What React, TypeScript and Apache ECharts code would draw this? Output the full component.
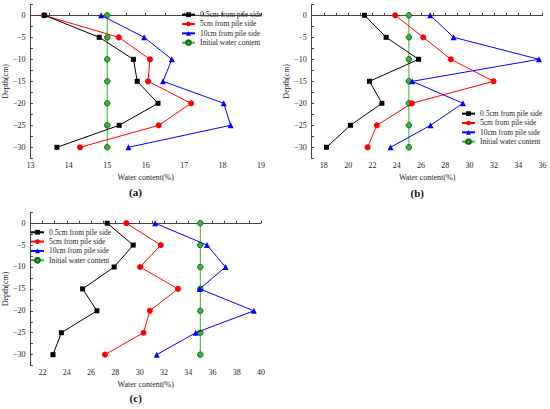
import React, { useEffect, useRef } from "react";
import * as echarts from "echarts";

const depths = [0, -5, -10, -15, -20, -25, -30];
const seriesNames = [
  "0.5cm from pile side",
  "5cm from pile side",
  "10cm from pile side",
  "Initial water content",
];
const depthTicks = [0, -5, -10, -15, -20, -25, -30];

const a05 = [13.37, 14.79, 15.68, 15.78, 16.32, 15.31, 13.69];
const a5 = [13.35, 15.3, 16.11, 16.06, 17.18, 16.34, 14.29];
const a10 = [14.84, 15.96, 16.68, 16.45, 18.03, 18.21, 15.55];
const aInit = [15, 15, 15, 15, 15, 15, 15];

const b05 = [21.35, 23.13, 25.8, 21.76, 22.78, 20.19, 18.22];
const b5 = [23.87, 26.18, 28.46, 31.97, 25.25, 22.36, 21.6];
const b10 = [26.76, 28.68, 35.71, 25.27, 29.45, 26.78, 23.49];
const bInit = [25, 25, 25, 25, 25, 25, 25];

const c05 = [27.33, 29.47, 27.9, 25.3, 26.48, 23.55, 22.86];
const c5 = [28.9, 31.74, 30.04, 33.16, 30.84, 30.32, 27.14];
const c10 = [31.27, 35.55, 37.08, 34.95, 39.41, 34.62, 31.41];
const cInit = [35, 35, 35, 35, 35, 35, 35];

const panelLabels = ["(a)", "(b)", "(c)"];
const xTitle = "Water content(%)";
const yTitle = "Depth(cm)";

const FONT = "'Liberation Serif', 'Times New Roman', serif";
const TXT = "#222";
const AX = "#444";

const styles = [
  { color: "#000000", symbol: "rect", size: 5, border: "#000000" },
  { color: "#ff0000", symbol: "circle", size: 6, border: "#ff0000" },
  { color: "#0000ff", symbol: "triangle", size: 6, border: "#0000ff" },
  { color: "#3fae3f", symbol: "circle", size: 5.5, border: "#0b6e0b" },
];

export default function App() {
  const ref = useRef<HTMLDivElement>(null);
  useEffect(() => {
    if (!ref.current) return;
    const chart = echarts.init(ref.current, undefined, { renderer: "svg" });

    const grids = [
      { left: 30, top: 4.3, width: 231, height: 154 },
      { left: 311.7, top: 4.3, width: 230.8, height: 154 },
      { left: 30, top: 212.2, width: 231, height: 153.4 },
    ];
    const xRanges = [
      { min: 13, max: 19, interval: 0.5, step: 1 },
      { min: 17, max: 36, interval: 1, step: 2 },
      { min: 21, max: 40, interval: 1, step: 2 },
    ];
    const panelData = [
      [a05, a5, a10, aInit],
      [b05, b5, b10, bInit],
      [c05, c5, c10, cInit],
    ];

    const xAxis = xRanges.map((r, i) => ({
      type: "value",
      gridIndex: i,
      min: r.min,
      max: r.max,
      interval: r.interval,
      name: xTitle,
      nameLocation: "middle",
      nameGap: 15,
      nameTextStyle: { fontFamily: FONT, fontSize: 8, color: TXT },
      axisLine: { show: true, lineStyle: { color: AX, width: 1 } },
      axisTick: { show: true, inside: true, length: 2.5, lineStyle: { color: AX } },
      axisLabel: {
        fontFamily: FONT,
        fontSize: 8,
        color: TXT,
        margin: 3,
        formatter: (v: number) =>
          Math.abs(v / r.step - Math.round(v / r.step)) < 1e-6 ? String(Math.round(v)) : "",
      },
      splitLine: { show: false },
    }));

    const yAxis = [0, 1, 2].map((i) => ({
      type: "value",
      gridIndex: i,
      min: -32.5,
      max: 2.5,
      interval: 2.5,
      name: yTitle,
      nameLocation: "middle",
      nameGap: 19,
      nameTextStyle: { fontFamily: FONT, fontSize: 8, color: TXT },
      axisLine: { show: true, lineStyle: { color: AX, width: 1 } },
      axisTick: { show: true, inside: true, length: 2.5, lineStyle: { color: AX } },
      axisLabel: {
        fontFamily: FONT,
        fontSize: 8,
        color: TXT,
        margin: 5,
        formatter: (v: number) =>
          depthTicks.some((t) => Math.abs(t - v) < 1e-6) ? String(v).replace("-", "\u2212") : "",
      },
      splitLine: { show: false },
    }));

    const series: any[] = [];
    panelData.forEach((sets, p) => {
      sets.forEach((vals, k) => {
        const s = styles[k];
        series.push({
          type: "line",
          name: seriesNames[k],
          xAxisIndex: p,
          yAxisIndex: p,
          data: vals.map((v, j) => [v, depths[j]]),
          symbol: s.symbol,
          symbolSize: s.size,
          lineStyle: { color: s.color, width: 1 },
          itemStyle: { color: s.color, borderColor: s.border, borderWidth: k === 3 ? 1 : 0 },
          z: 10 - k,
        });
      });
    });

    const legendBase = {
      orient: "vertical",
      data: seriesNames,
      itemWidth: 13,
      itemHeight: 6,
      itemGap: 0,
      padding: 0,
      selectedMode: false,
      textStyle: { fontFamily: FONT, fontSize: 7.5, color: TXT, lineHeight: 9.33 },
    };

    const option: any = {
      animation: false,
      backgroundColor: "#ffffff",
      grid: grids,
      xAxis,
      yAxis,
      series,
      legend: [
        { ...legendBase, left: 181, top: 10 },
        { ...legendBase, left: 461, top: 109 },
        { ...legendBase, left: 30, top: 227.6 },
      ],
      graphic: [
        { x: 135.5, y: 192.3 },
        { x: 417.3, y: 192.7 },
        { x: 135.7, y: 397.7 },
      ].map((pos, i) => ({
        type: "text",
        x: pos.x,
        y: pos.y,
        style: {
          text: panelLabels[i],
          fontFamily: FONT,
          fontSize: 11,
          fontWeight: "bold",
          fill: "#111",
          textAlign: "center",
          textVerticalAlign: "middle",
        },
      })),
    };
    chart.setOption(option);
    return () => chart.dispose();
  }, []);

  return (
    <div
      ref={ref}
      style={{ position: "fixed", left: 0, top: 0, width: 550, height: 409, background: "#fff" }}
    />
  );
}
